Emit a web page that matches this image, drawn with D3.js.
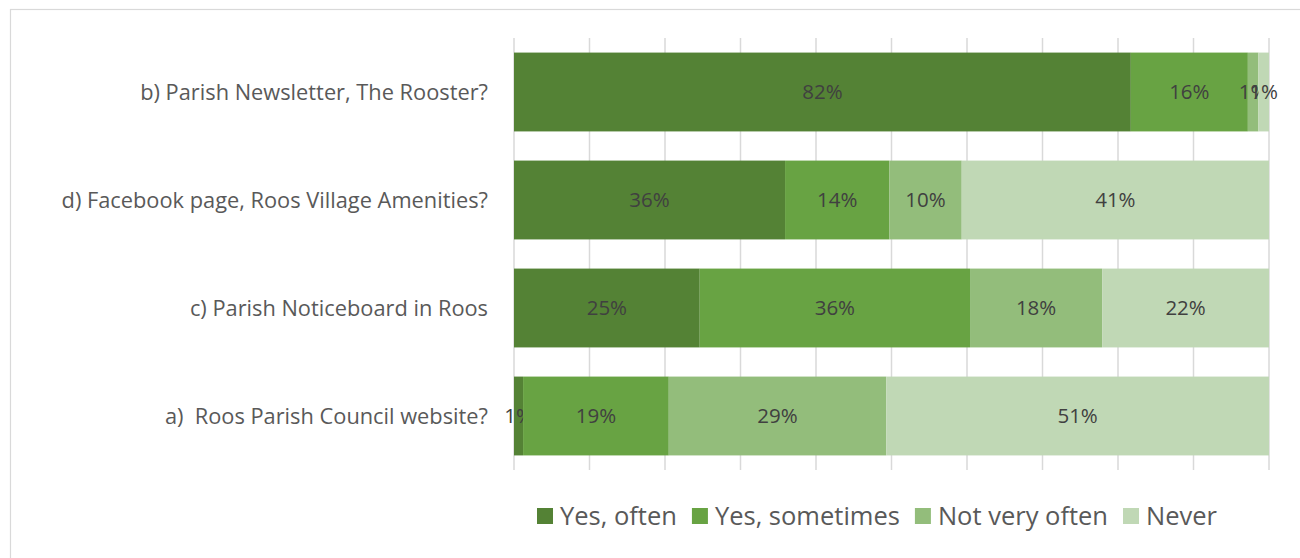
<!DOCTYPE html>
<html>
<head>
<meta charset="utf-8">
<script src="https://cdn.jsdelivr.net/npm/d3@7"></script>
<style>
  body { margin: 0; background: #fff; }
  svg { display: block; }
</style>
</head>
<body>
<script>
(function (d3) {
  "use strict";

  /***** Data *****/
  var categories = [
    "b) Parish Newsletter, The Rooster?",
    "d) Facebook page, Roos Village Amenities?",
    "c) Parish Noticeboard in Roos",
    "a)  Roos Parish Council website?"
  ];
  var seriesNames = ["Yes, often", "Yes, sometimes", "Not very often", "Never"];
  var yesOften = [81.7, 35.9, 24.6, 1.2];
  var yesSometimes = [15.5, 13.8, 35.8, 19.3];
  var notVeryOften = [1.4, 9.6, 17.5, 28.8];
  var never = [1.4, 40.7, 22.1, 50.7];
  var xTicks = [0, 10, 20, 30, 40, 50, 60, 70, 80, 90, 100];

  var colors = ["#548235", "#68a343", "#93bd7b", "#c0d8b5"];
  var font = "'Open Sans', sans-serif";

  /***** Layout *****/
  var width = 1300, height = 558;
  var plot = { left: 514, right: 1269, top: 38, bottom: 470 };

  var svg = d3.select("body").append("svg")
      .attr("width", width)
      .attr("height", height);

  // chart frame
  svg.append("rect")
      .attr("x", 10.5).attr("y", 9.5)
      .attr("width", 1300).attr("height", 560)
      .attr("fill", "none")
      .attr("stroke", "#d9d9d9")
      .attr("stroke-width", 1.2);

  var xScale = d3.scaleLinear().domain([0, 100]).range([plot.left, plot.right]);
  var yScale = d3.scaleBand().domain(categories)
      .range([plot.top, plot.bottom])
      .paddingInner(0.27).paddingOuter(0.135);

  /***** Gridlines *****/
  svg.append("g")
      .selectAll("line")
      .data(xTicks)
      .join("line")
      .attr("x1", function (d) { return xScale(d); })
      .attr("x2", function (d) { return xScale(d); })
      .attr("y1", plot.top)
      .attr("y2", plot.bottom)
      .attr("stroke", "#d9d9d9")
      .attr("stroke-width", 1.5);

  /***** Stack *****/
  var rows = categories.map(function (c, i) {
    return {
      category: c,
      "Yes, often": yesOften[i],
      "Yes, sometimes": yesSometimes[i],
      "Not very often": notVeryOften[i],
      "Never": never[i]
    };
  });
  var stacked = d3.stack().keys(seriesNames)(rows);

  var layers = svg.append("g")
      .selectAll("g")
      .data(stacked)
      .join("g")
      .attr("fill", function (d, i) { return colors[i]; });

  layers.selectAll("rect")
      .data(function (d) { return d; })
      .join("rect")
      .attr("x", function (d) { return xScale(d[0]); })
      .attr("y", function (d) { return yScale(d.data.category); })
      .attr("width", function (d) { return xScale(d[1]) - xScale(d[0]); })
      .attr("height", yScale.bandwidth());

  layers.selectAll("text")
      .data(function (d) { return d; })
      .join("text")
      .attr("x", function (d) { return (xScale(d[0]) + xScale(d[1])) / 2; })
      .attr("y", function (d) { return yScale(d.data.category) + yScale.bandwidth() / 2; })
      .attr("dy", "0.36em")
      .attr("text-anchor", "middle")
      .attr("fill", "#404040")
      .style("font-family", font)
      .style("font-size", "20.5px")
      .text(function (d) { return Math.round(d[1] - d[0]) + "%"; });

  /***** Category labels *****/
  svg.append("g")
      .selectAll("text")
      .data(categories)
      .join("text")
      .attr("x", 488)
      .attr("y", function (d) { return yScale(d) + yScale.bandwidth() / 2; })
      .attr("dy", "0.36em")
      .attr("text-anchor", "end")
      .attr("fill", "#595959")
      .style("font-family", font)
      .style("font-size", "21.8px")
      .style("white-space", "pre")
      .text(function (d) { return d; });

  /***** Legend *****/
  var legend = svg.append("g").attr("transform", "translate(0,516)");
  var lx = 537;
  seriesNames.forEach(function (name, i) {
    legend.append("rect")
        .attr("x", lx).attr("y", -8)
        .attr("width", 16).attr("height", 16)
        .attr("fill", colors[i]);
    var t = legend.append("text")
        .attr("x", lx + 23).attr("y", 0)
        .attr("dy", "0.36em")
        .attr("fill", "#595959")
        .style("font-family", font)
        .style("font-size", "25.5px")
        .text(name);
    lx += 23 + t.node().getComputedTextLength() + 15;
  });

})(d3);
</script>
</body>
</html>
